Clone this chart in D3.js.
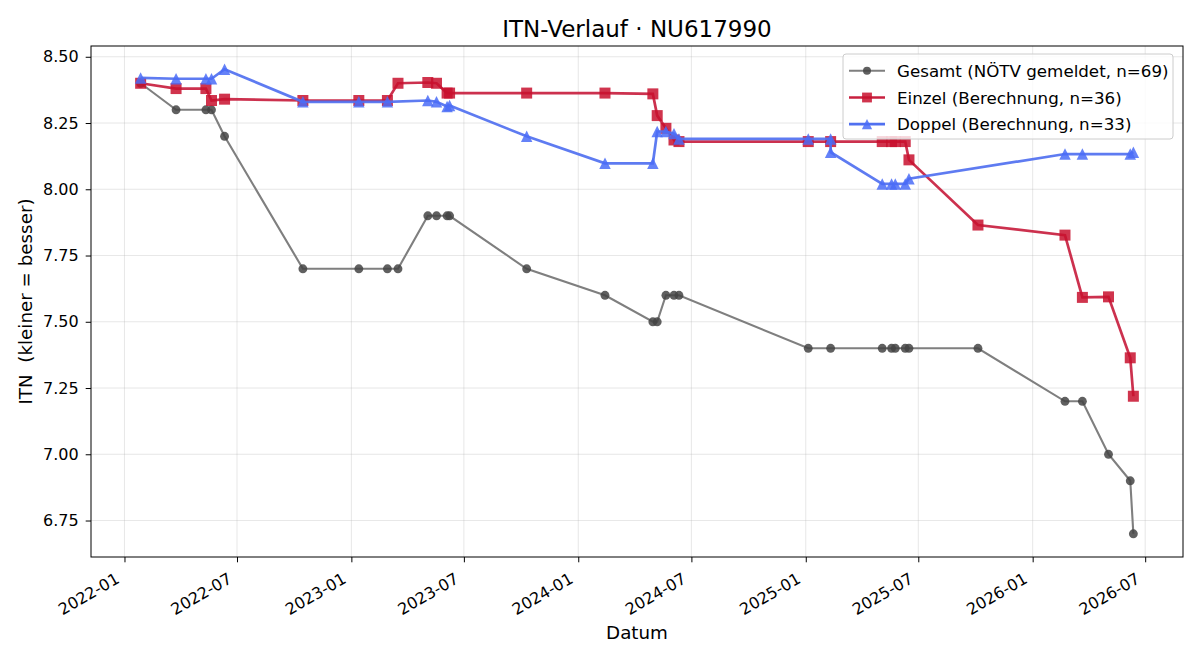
<!DOCTYPE html>
<html>
<head>
<meta charset="utf-8">
<script src="https://cdn.jsdelivr.net/npm/d3@7"></script>
<style>
  body { margin: 0; background: #fff; }
  svg { font-family: "DejaVu Sans", sans-serif; }
</style>
</head>
<body>
<svg id="chart" width="1200" height="660"></svg>
<script>
// 1. data
const gesamtDates = ['2022-01-27','2022-03-25','2022-05-12','2022-05-21','2022-06-11','2022-10-15',
  '2023-01-13','2023-02-28','2023-03-17','2023-05-04','2023-05-18','2023-06-04','2023-06-08',
  '2023-10-10','2024-02-13','2024-04-30','2024-05-07','2024-05-21','2024-06-03','2024-06-11',
  '2025-01-05','2025-02-10','2025-05-04','2025-05-19','2025-05-25','2025-06-10','2025-06-16',
  '2025-10-05','2026-02-22','2026-03-22','2026-05-03','2026-06-07','2026-06-12'];
const gesamtValues = [8.40,8.30,8.30,8.30,8.20,7.70,
  7.70,7.70,7.70,7.90,7.90,7.90,7.90,
  7.70,7.60,7.50,7.50,7.60,7.60,7.60,
  7.40,7.40,7.40,7.40,7.40,7.40,7.40,
  7.40,7.20,7.20,7.00,6.90,6.70];

const einzelDates = ['2022-01-27','2022-03-25','2022-05-12','2022-05-21','2022-06-11','2022-10-15',
  '2023-01-13','2023-02-28','2023-03-17','2023-05-04','2023-05-18','2023-06-04','2023-06-08',
  '2023-10-10','2024-02-13','2024-04-30','2024-05-07','2024-05-21','2024-06-03','2024-06-11',
  '2025-01-05','2025-02-10','2025-05-04','2025-05-19','2025-05-25','2025-06-10','2025-06-16',
  '2025-10-05','2026-02-22','2026-03-22','2026-05-03','2026-06-07','2026-06-12'];
const einzelValues = [8.40,8.38,8.38,8.335,8.34,8.335,
  8.335,8.335,8.40,8.403,8.40,8.363,8.363,
  8.363,8.363,8.36,8.278,8.23,8.186,8.18,
  8.18,8.18,8.18,8.18,8.18,8.18,8.111,
  7.865,7.827,7.592,7.594,7.364,7.219];

const doppelDates = ['2022-01-27','2022-03-25','2022-05-12','2022-05-21','2022-06-11','2022-10-15',
  '2023-01-13','2023-02-28','2023-05-04','2023-05-18','2023-06-04','2023-06-08',
  '2023-10-10','2024-02-13','2024-04-30','2024-05-07','2024-05-21','2024-06-03','2024-06-11',
  '2025-01-05','2025-02-10','2025-02-10','2025-05-04','2025-05-19','2025-05-25','2025-06-10','2025-06-16',
  '2026-02-22','2026-03-22','2026-06-07','2026-06-12'];
const doppelValues = [8.42,8.417,8.417,8.417,8.453,8.33,
  8.33,8.33,8.335,8.33,8.312,8.316,
  8.20,8.098,8.098,8.218,8.218,8.21,8.19,
  8.19,8.19,8.14,8.02,8.02,8.02,8.02,8.04,
  8.133,8.133,8.133,8.14];

const xTickLabels = ['2022-01','2022-07','2023-01','2023-07','2024-01','2024-07','2025-01','2025-07','2026-01','2026-07'];
const yTickLabels = ['6.75','7.00','7.25','7.50','7.75','8.00','8.25','8.50'];

const parse = d3.timeParse('%Y-%m-%d');
const zip = (ds, vs) => ds.map((d, i) => ({ date: parse(d), value: vs[i] }));

const series = [
  { name: 'Gesamt (NÖTV gemeldet, n=69)', data: zip(gesamtDates, gesamtValues), line: '#7f7f7f', marker: '#444444', shape: 'circle' },
  { name: 'Einzel (Berechnung, n=36)', data: zip(einzelDates, einzelValues), line: '#c8203f', marker: '#c8102e', shape: 'square' },
  { name: 'Doppel (Berechnung, n=33)', data: zip(doppelDates, doppelValues), line: '#5070f0', marker: '#4a6cf7', shape: 'triangle' }
];

// 2. layout
const pLeft = 91, pTop = 46, pRight = 1183, pBottom = 557;
const tickFont = '16px';

const all = series.flatMap(s => s.data);
const xExt = d3.extent(all, d => d.date);
const yExt = d3.extent(all, d => d.value);
const xPad = (xExt[1] - xExt[0]) * 0.05;
const yPad = (yExt[1] - yExt[0]) * 0.05;

const xScale = d3.scaleTime()
  .domain([new Date(+xExt[0] - xPad), new Date(+xExt[1] + xPad)])
  .range([pLeft, pRight]);

const yScale = d3.scaleLinear()
  .domain([yExt[0] - yPad, yExt[1] + yPad])
  .range([pBottom, pTop]);

const svg = d3.select('#chart');

const xTicks = xTickLabels.map(d => d3.timeParse('%Y-%m')(d));
const yTicks = yTickLabels.map(Number);

// grid
const grid = svg.append('g');
grid.selectAll('.vg').data(xTicks).enter()
  .append('line')
  .attr('x1', d => xScale(d)).attr('x2', d => xScale(d))
  .attr('y1', pTop).attr('y2', pBottom)
  .attr('stroke', '#b0b0b0').attr('stroke-opacity', 0.3).attr('stroke-width', 1);
grid.selectAll('.hg').data(yTicks).enter()
  .append('line')
  .attr('x1', pLeft).attr('x2', pRight)
  .attr('y1', d => yScale(d)).attr('y2', d => yScale(d))
  .attr('stroke', '#b0b0b0').attr('stroke-opacity', 0.3).attr('stroke-width', 1);

// axes
const xAxis = svg.append('g')
  .attr('transform', 'translate(0,' + pBottom + ')')
  .call(d3.axisBottom(xScale).tickValues(xTicks).tickFormat(d3.timeFormat('%Y-%m')).tickSize(5.3).tickSizeOuter(0))
  .attr('font-family', '"DejaVu Sans", sans-serif')
  .attr('font-size', tickFont);
xAxis.select('.domain').remove();
xAxis.selectAll('.tick line').attr('stroke', '#000');
xAxis.selectAll('.tick text')
  .attr('fill', '#000')
  .attr('text-anchor', 'end')
  .attr('y', 0).attr('dy', 0)
  .attr('transform', 'translate(-4.5,25) rotate(-30)');

const yAxis = svg.append('g')
  .attr('transform', 'translate(' + pLeft + ',0)')
  .call(d3.axisLeft(yScale).tickValues(yTicks).tickFormat(d3.format('.2f')).tickSize(5.3).tickPadding(7).tickSizeOuter(0))
  .attr('font-family', '"DejaVu Sans", sans-serif')
  .attr('font-size', tickFont);
yAxis.select('.domain').remove();
yAxis.selectAll('.tick line').attr('stroke', '#000');
yAxis.selectAll('.tick text').attr('fill', '#000');

// lines + markers
const line = d3.line().x(d => xScale(d.date)).y(d => yScale(d.value));
// matplotlib style '^': as wide as it is tall
const mplTriangle = {
  draw(ctx, size) {
    const h = Math.sqrt(size);
    ctx.moveTo(0, -h / 2);
    ctx.lineTo(h / 2, h / 2);
    ctx.lineTo(-h / 2, h / 2);
    ctx.closePath();
  }
};
const symOf = s => s.shape === 'circle' ? d3.symbolCircle : s.shape === 'square' ? d3.symbolSquare : mplTriangle;
const sizeOf = s => s.shape === 'circle' ? 62 : s.shape === 'square' ? 121 : 132;

series.forEach(s => {
  const g = svg.append('g');
  g.append('path')
    .datum(s.data)
    .attr('fill', 'none')
    .attr('stroke', s.line)
    .attr('stroke-width', s.shape === 'circle' ? 2.1 : 2.7)
    .attr('stroke-opacity', s.shape === 'circle' ? 1 : 0.92)
    .attr('d', line);
  g.selectAll('.m').data(s.data).enter()
    .append('path')
    .attr('d', d3.symbol().type(symOf(s)).size(sizeOf(s)))
    .attr('transform', d => 'translate(' + xScale(d.date) + ',' + yScale(d.value) + ')')
    .attr('fill', s.marker)
    .attr('fill-opacity', 0.85);
});

// frame
svg.append('rect')
  .attr('x', pLeft).attr('y', pTop)
  .attr('width', pRight - pLeft).attr('height', pBottom - pTop)
  .attr('fill', 'none').attr('stroke', '#000').attr('stroke-width', 1);

// legend
const legend = svg.append('g').attr('transform', 'translate(843,54)');
legend.append('rect')
  .attr('width', 330).attr('height', 85).attr('rx', 3)
  .attr('fill', '#fff').attr('fill-opacity', 0.8)
  .attr('stroke', '#cccccc');
series.forEach((s, i) => {
  const y = 16.8 + i * 26.7;
  legend.append('line')
    .attr('x1', 6).attr('x2', 42).attr('y1', y).attr('y2', y)
    .attr('stroke', s.line).attr('stroke-width', s.shape === 'circle' ? 2.1 : 2.7);
  legend.append('path')
    .attr('d', d3.symbol().type(symOf(s)).size(sizeOf(s) * 0.8))
    .attr('transform', 'translate(24,' + y + ')')
    .attr('fill', s.marker).attr('fill-opacity', 0.85);
  legend.append('text')
    .attr('x', 54).attr('y', y).attr('dy', '0.36em')
    .attr('font-size', '16.7px')
    .text(s.name);
});

// labels
svg.append('text')
  .attr('x', (pLeft + pRight) / 2).attr('y', 37)
  .attr('text-anchor', 'middle')
  .attr('font-size', '23px')
  .text('ITN-Verlauf · NU617990');

svg.append('text')
  .attr('x', (pLeft + pRight) / 2).attr('y', 639)
  .attr('text-anchor', 'middle')
  .attr('font-size', '18.3px')
  .text('Datum');

svg.append('text')
  .attr('transform', 'translate(32,' + (pTop + pBottom) / 2 + ') rotate(-90)')
  .attr('text-anchor', 'middle')
  .attr('font-size', '18.3px')
  .style('white-space', 'pre')
  .text('ITN  (kleiner = besser)');
</script>
</body>
</html>
